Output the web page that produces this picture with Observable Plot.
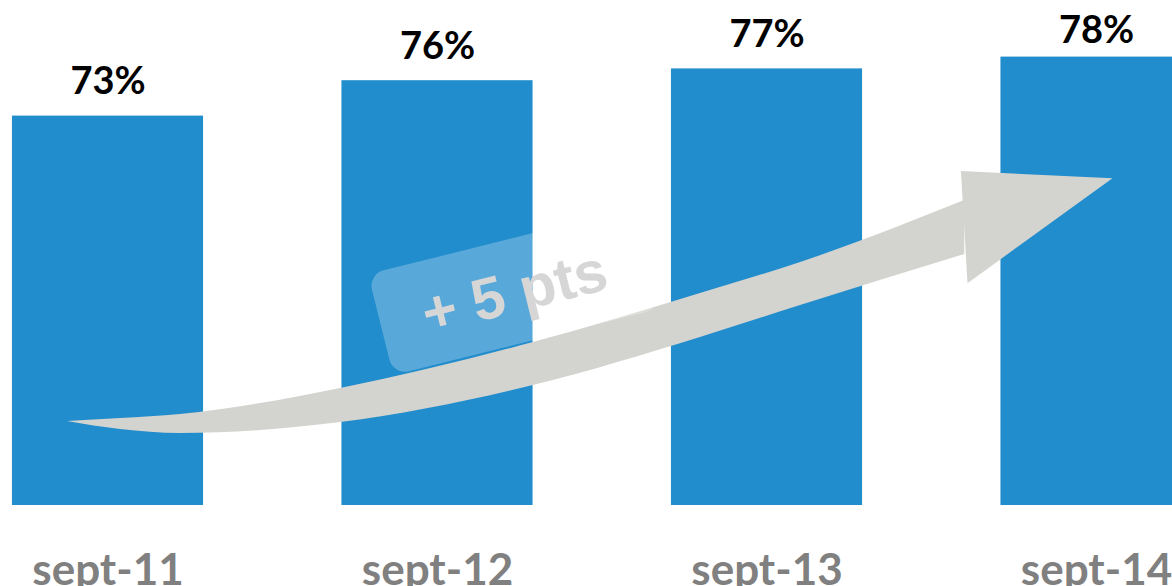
<!DOCTYPE html>
<html>
<head>
<meta charset="utf-8">
<script src="https://cdn.jsdelivr.net/npm/d3@7"></script>
<script src="https://cdn.jsdelivr.net/npm/@observablehq/plot@0.6"></script>
<style>
  html, body { margin: 0; padding: 0; background: #fff; overflow: hidden; }
  #chart svg { display: block; }
</style>
</head>
<body>
<div id="chart"></div>
<script>
// ---- data ----
const categories = ["sept-11", "sept-12", "sept-13", "sept-14"];
const values = [73, 76, 77, 78];
const valueLabels = ["73%", "76%", "77%", "78%"];

// arrow annotation, in data units (x = category index, y = value)
const arrowX      = [-0.123, 0.038, 0.220, 0.706, 1.291, 1.798, 2.102, 2.600];
const arrowTop    = [47.12, 47.37, 47.71, 49.92, 53.81, 57.97, 60.59, 65.85];
const arrowBottom = [47.12, 46.44, 46.10, 47.03, 50.17, 54.24, 56.95, 61.27];
const headXTop    = [2.59, 3.05];
const headXBottom = [2.61, 3.05];
const headTop     = [68.3, 67.7];
const headBottom  = [58.8, 67.7];

const noteText = "+ 5 pts";
const noteCenter = [1.234, 58.0];

// ---- tables ----
const bars = categories.map((c, i) => ({i, category: c, value: values[i], label: valueLabels[i]}));
const shaft = arrowX.map((x, k) => ({x, top: arrowTop[k], bottom: arrowBottom[k]}));
const head = headXTop.map((x, k) => ({xt: x, xb: headXBottom[k], top: headTop[k], bottom: headBottom[k]}));

const BLUE = "#218dcd";
const ARROW = "#d3d3cf";
const halfBar = 0.29;
const angle = -14;
const lastIndex = categories.length - 1;

function noteBox(index, scales) {
  const ns = "http://www.w3.org/2000/svg";
  const cx = scales.x(noteCenter[0]), cy = scales.y(noteCenter[1] + 0.1);
  const g = document.createElementNS(ns, "g");
  g.setAttribute("transform", `translate(${cx},${cy}) rotate(${angle})`);
  const r = document.createElementNS(ns, "rect");
  const w = 275, h = 104;
  r.setAttribute("x", -w / 2);
  r.setAttribute("y", -h / 2);
  r.setAttribute("width", w);
  r.setAttribute("height", h);
  r.setAttribute("rx", 16);
  r.setAttribute("fill", "#ffffff");
  r.setAttribute("fill-opacity", 0.25);
  g.appendChild(r);
  return g;
}

const labelStyle = {x: "i", y: "value", text: "label", lineAnchor: "bottom",
  fontSize: 38, fontWeight: "bold", fill: "#000", fontFamily: "Lato"};

const chart = Plot.plot({
  width: 1172,
  height: 586,
  margin: 0,
  x: {domain: [0, 3], range: [107.5, 1096], axis: null},
  y: {domain: [40, 80], range: [505, 33], axis: null},
  marks: [
    Plot.rectY(bars, {x1: d => d.i - halfBar, x2: d => d.i + halfBar, y1: 40, y2: "value", fill: BLUE}),
    Plot.text(bars, {...labelStyle, filter: d => d.i !== lastIndex, dy: -22}),
    Plot.text(bars, {...labelStyle, filter: d => d.i === lastIndex, dy: -14}),
    Plot.text(bars, {x: "i", y: 40, text: "category", dy: 79, lineAnchor: "bottom",
      fontSize: 44, fontWeight: "bold", fill: "#808080", fontFamily: "Lato"}),
    Plot.area(shaft, {x1: "x", y1: "bottom", x2: "x", y2: "top", fill: ARROW, curve: "monotone-x"}),
    Plot.area(head, {x1: "xb", y1: "bottom", x2: "xt", y2: "top", fill: ARROW, curve: "linear"}),
    noteBox,
    Plot.text([noteText], {x: noteCenter[0], y: noteCenter[1], text: d => d, rotate: angle,
      fontSize: 59, fontWeight: "bold", fill: "#d6d6d6", fontFamily: "Liberation Sans", lineAnchor: "middle"})
  ]
});
document.getElementById("chart").appendChild(chart);
</script>
</body>
</html>
